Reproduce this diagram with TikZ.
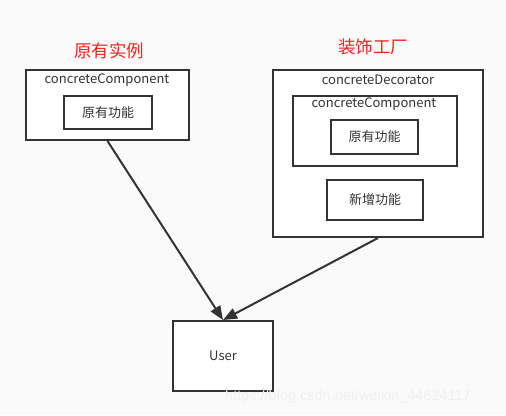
\documentclass[tikz,border=0pt]{standalone}
\usepackage{fontspec}
\setmainfont{Noto Sans CJK SC}
\newfontfamily\wmfont{Liberation Sans}
\usetikzlibrary{arrows.meta}
\definecolor{ink}{HTML}{333333}
\definecolor{bg}{HTML}{FAFAFA}
\definecolor{titlered}{HTML}{FF2020}
\tikzset{
  box/.style={draw=ink, line width=2pt, fill=white, inner sep=0pt, anchor=north west},
  lbl/.style={text=ink, font=\fontsize{13}{15}\selectfont, inner sep=0pt},
  ttl/.style={text=titlered, font=\fontsize{17.5}{20}\selectfont, inner sep=0pt},
  arr/.style={draw=ink, line width=2pt, -{Triangle[length=14pt,width=11pt]}}
}
\begin{document}
\begin{tikzpicture}[x=1pt,y=-1pt]
\fill[bg] (0,0) rectangle (506,415);
\useasboundingbox (0,0) rectangle (506,415);
% left
\node[ttl] (t1) at (109,51) {原有实例};
\node[box, minimum width=163pt, minimum height=70pt] (cc) at (25,69) {};
\node[lbl] (cclbl) at (107,80) {concreteComponent};
\node[box, minimum width=88pt, minimum height=33pt] (f1) at (63,95) {};
\node[lbl] at (f1.center) {原有功能};
% right
\node[ttl] (t2) at (373,47) {装饰工厂};
\node[box, minimum width=210pt, minimum height=167pt] (cd) at (272,69) {};
\node[lbl] (cdlbl) at (378,80) {concreteDecorator};
\node[box, minimum width=164pt, minimum height=70pt] (cc2) at (292,95) {};
\node[lbl] (cc2lbl) at (374,104) {concreteComponent};
\node[box, minimum width=87pt, minimum height=34pt] (f2) at (330,119) {};
\node[lbl] at (f2.center) {原有功能};
\node[box, minimum width=96pt, minimum height=40pt] (f3) at (326,179) {};
\node[lbl] at (f3.center) {新增功能};
% user
\node[box, minimum width=100pt, minimum height=70pt] (user) at (172,320) {};
\node[lbl] at (user.center) {User};
% arrows
\draw[arr] (cc.south) -- (user.north);
\draw[arr] (cd.south) -- (user.north);
% watermark
\node[text=white!88!gray, font=\wmfont\fontsize{14.5}{16}\selectfont, inner sep=0pt, anchor=west] (wm) at (225,397) {https://blog.csdn.net/weixin\_44624117};
\end{tikzpicture}
\end{document}
